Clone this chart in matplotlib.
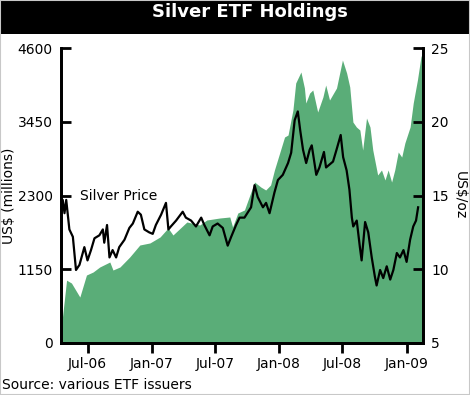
import matplotlib
matplotlib.use("Agg")
import matplotlib.pyplot as plt
import matplotlib.dates as mdates
import pandas as pd
from matplotlib.patches import Rectangle

# ETF holdings, US$ millions (left axis)
etf_dates = ["2006-04-17", "2006-05-02", "2006-05-16", "2006-06-09", "2006-06-28",
             "2006-07-17", "2006-08-05", "2006-09-03", "2006-09-12", "2006-10-02",
             "2006-10-30", "2006-11-28", "2006-12-27", "2007-01-25", "2007-02-17",
             "2007-03-03", "2007-04-12", "2007-05-19", "2007-06-08", "2007-07-15",
             "2007-08-13", "2007-08-21", "2007-09-05", "2007-09-24", "2007-10-23",
             "2007-11-10", "2007-11-24", "2007-12-08", "2007-12-19", "2008-01-03",
             "2008-01-17", "2008-01-27", "2008-02-10", "2008-02-18", "2008-03-04",
             "2008-03-14", "2008-03-18", "2008-03-29", "2008-04-07", "2008-04-21",
             "2008-05-06", "2008-05-14", "2008-05-25", "2008-06-14", "2008-07-01",
             "2008-07-13", "2008-07-22", "2008-07-31", "2008-08-10", "2008-08-20",
             "2008-08-28", "2008-09-08", "2008-09-18", "2008-09-26", "2008-10-10",
             "2008-10-21", "2008-10-31", "2008-11-09", "2008-11-19", "2008-11-28",
             "2008-12-08", "2008-12-18", "2008-12-27", "2009-01-11", "2009-01-20",
             "2009-02-01", "2009-02-11", "2009-02-17"]
etf_values = [250, 980, 935, 717, 1060,
              1107, 1185, 1263, 1138, 1185,
              1341, 1528, 1560, 1653, 1793,
              1684, 1887, 1840, 1918, 1949,
              1965, 1809, 2027, 2074, 2510,
              2432, 2386, 2464, 2698, 2963,
              3212, 3243, 3633, 4054, 4226,
              3976, 3742, 3898, 3945, 3602,
              3836, 4023, 3789, 3976, 4413,
              4210, 3992, 3446, 3368, 3321,
              3009, 3508, 3368, 3009, 2620,
              2698, 2542, 2698, 2510, 2698,
              2978, 2900, 3119, 3368, 3742,
              4101, 4460, 4550]

# Silver price, US$/oz (right axis)
price_dates = ["2006-04-16", "2006-04-21", "2006-04-26", "2006-05-01", "2006-05-10",
               "2006-05-20", "2006-05-29", "2006-06-08", "2006-06-22", "2006-07-01",
               "2006-07-11", "2006-07-21", "2006-08-04", "2006-08-14", "2006-08-18",
               "2006-08-26", "2006-09-02", "2006-09-11", "2006-09-21", "2006-09-30",
               "2006-10-15", "2006-10-29", "2006-11-08", "2006-11-22", "2006-12-01",
               "2006-12-11", "2006-12-25", "2007-01-04", "2007-01-13", "2007-01-28",
               "2007-02-11", "2007-02-18", "2007-02-25", "2007-03-12", "2007-03-31",
               "2007-04-09", "2007-04-24", "2007-05-08", "2007-05-23", "2007-06-01",
               "2007-06-16", "2007-06-25", "2007-07-09", "2007-07-24", "2007-08-07",
               "2007-08-17", "2007-08-31", "2007-09-10", "2007-09-24", "2007-10-13",
               "2007-10-23", "2007-11-01", "2007-11-16", "2007-11-25", "2007-12-05",
               "2007-12-19", "2007-12-29", "2008-01-12", "2008-01-27", "2008-02-05",
               "2008-02-15", "2008-02-24", "2008-03-02", "2008-03-10", "2008-03-19",
               "2008-03-29", "2008-04-04", "2008-04-17", "2008-04-26", "2008-05-09",
               "2008-05-15", "2008-05-30", "2008-06-04", "2008-06-14", "2008-06-26",
               "2008-07-03", "2008-07-13", "2008-07-21", "2008-07-28", "2008-08-01",
               "2008-08-11", "2008-08-20", "2008-08-25", "2008-09-04", "2008-09-13",
               "2008-09-23", "2008-10-02", "2008-10-07", "2008-10-17", "2008-10-26",
               "2008-11-05", "2008-11-15", "2008-11-24", "2008-12-04", "2008-12-13",
               "2008-12-23", "2009-01-01", "2009-01-11", "2009-01-20", "2009-01-28",
               "2009-02-03"]
price_values = [14.0, 14.7, 13.8, 14.7, 12.7,
                12.2, 9.95, 10.3, 11.5, 10.6,
                11.3, 12.1, 12.3, 12.7, 11.8,
                13.0, 10.8, 11.3, 10.8, 11.5,
                12.0, 12.8, 13.1, 13.9, 13.7,
                12.7, 12.5, 12.4, 13.0, 13.7,
                14.5, 12.7, 12.9, 13.3, 13.9,
                13.5, 13.3, 12.9, 13.5, 13.0,
                12.3, 12.9, 13.1, 12.8, 11.6,
                12.2, 13.0, 13.5, 13.5, 14.2,
                15.7, 14.9, 14.2, 14.5, 13.8,
                15.2, 16.05, 16.4, 17.2, 17.9,
                20.1, 20.7, 19.4, 18.1, 17.2,
                18.1, 18.4, 16.4, 16.9, 17.95,
                16.9, 17.2, 17.3, 18.1, 19.1,
                17.6, 16.7, 15.4, 13.5, 12.9,
                13.3, 11.5, 10.6, 13.2, 12.5,
                10.8, 9.5, 8.9, 9.95, 9.4,
                10.2, 9.3, 9.95, 11.1, 10.8,
                11.3, 10.5, 12.0, 12.9, 13.3,
                14.2]

left_ticks = [0, 1150, 2300, 3450, 4600]
right_ticks = [5, 10, 15, 20, 25]
x_ticks = ["2006-07-01", "2007-01-01", "2007-07-01", "2008-01-01", "2008-07-01", "2009-01-01"]

green = "#5aad78"
plt.rcParams["font.family"] = ["DejaVu Sans"]

fig = plt.figure(figsize=(4.70, 3.95), dpi=100)
ax = fig.add_axes([61 / 470, 52 / 395, 362 / 470, 295 / 395])

ed = pd.to_datetime(etf_dates)
ax.fill_between(ed, 0, etf_values, color=green, linewidth=0)
ax.set_ylim(0, 4600)
ax.set_yticks(left_ticks)
ax.set_xlim(pd.Timestamp("2006-04-16"), pd.Timestamp("2009-02-17"))
ax.set_xticks(pd.to_datetime(x_ticks))
ax.xaxis.set_major_formatter(mdates.DateFormatter("%b-%y"))
ax.set_ylabel("US$ (millions)", fontsize=10, va="center")
ax.yaxis.set_label_coords(-0.143, 0.5)

ax2 = ax.twinx()
ax2.plot(pd.to_datetime(price_dates), price_values, color="black", linewidth=1.6)
ax2.set_ylim(5, 25)
ax2.set_yticks(right_ticks)
ax2.set_ylabel("US$/oz", fontsize=10, rotation=-90, va="center")
ax2.yaxis.set_label_coords(1.102, 0.5)

for a in (ax, ax2):
    a.spines["top"].set_visible(False)
    for s in ("left", "right", "bottom"):
        a.spines[s].set_linewidth(2)
    a.tick_params(axis="y", direction="in", length=7, width=2, labelsize=10, pad=6)
    a.tick_params(axis="x", direction="out", length=7, width=2, labelsize=10, pad=3)

ax2.text(pd.Timestamp("2006-06-10"), 15.0, "Silver Price", fontsize=10, va="center")

# title bar
fig.patches.append(Rectangle((0, 1 - 34 / 395), 1, 34 / 395, transform=fig.transFigure,
                             facecolor="black", edgecolor="none"))
fig.text(250 / 470, 1 - 12 / 395, "Silver ETF Holdings", color="white", fontsize=13,
         fontweight="bold", ha="center", va="center")
fig.patches.append(Rectangle((0, 0), 1, 1, transform=fig.transFigure, facecolor="none",
                             edgecolor="#c8c8c8", linewidth=1.5))
fig.text(2 / 470, 1 - 385 / 395, "Source: various ETF issuers", fontsize=10,
         ha="left", va="center")

fig.savefig("out.png", dpi=100)
